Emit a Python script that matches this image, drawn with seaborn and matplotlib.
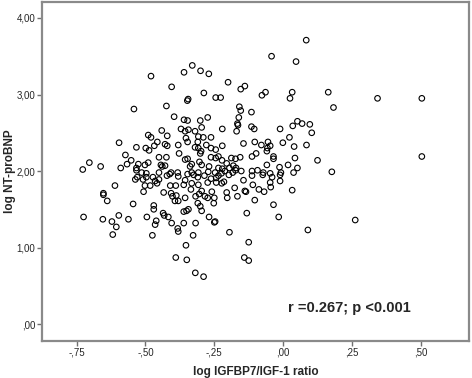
import numpy as np
import pandas as pd
import matplotlib
matplotlib.use("Agg")
import matplotlib.pyplot as plt
import seaborn as sns

# log IGFBP7/IGF-1 ratio (x) and log NT-proBNP (y)
ratio = [
    -0.48, -0.36, -0.33, -0.30, -0.27, -0.405, -0.20, -0.154, -0.139, -0.288, -0.345, -0.245, -0.227,
    0.084, -0.042, 0.047, -0.064, -0.077, 0.033, 0.025, 0.164, 0.343, 0.504,
    0.183, 0.097, 0.104, 0.085, 0.125, 0.177, 0.504, 0.262, 0.090,
    -0.141, -0.125, -0.390, -0.350, -0.319, -0.289, -0.353,
    -0.542, -0.596, -0.533, -0.573, -0.552, -0.567, -0.59, -0.533, -0.704, -0.728, -0.663,
    -0.537, -0.530, -0.611, -0.653, -0.653, -0.639, -0.545, -0.725, -0.655, -0.597, -0.622, -0.606, -0.562, -0.619,
    -0.348, -0.424, -0.396, -0.36, -0.347, -0.301, -0.274, -0.296, -0.221, -0.441, -0.371, -0.356, -0.344, -0.32,
    -0.49, -0.48, -0.421, -0.353, -0.308, -0.290, -0.262, -0.457, -0.468, -0.429, -0.421, -0.499, -0.487, -0.381,
    -0.347, -0.310, -0.32, -0.308, -0.298, -0.301, -0.279, -0.262, -0.245, -0.221, -0.451, -0.424, -0.378, -0.356,
    -0.347, -0.262, -0.245, -0.235, -0.526, -0.502, -0.490, -0.444, -0.439, -0.429, -0.332, -0.338, -0.304, -0.296,
    -0.269, -0.235, -0.221, -0.514, -0.497, -0.451, -0.407, -0.383, -0.332, -0.308, -0.272, -0.247, -0.533,
    -0.509, -0.497, -0.473, -0.451, -0.465, -0.458, -0.502, -0.483, -0.507, -0.422, -0.412, -0.381, -0.356, -0.347,
    -0.325, -0.310, -0.332, -0.308, -0.410, -0.390, -0.361, -0.434, -0.407, -0.402, -0.388, -0.381, -0.393, -0.356,
    -0.335, -0.318, -0.305, -0.296, -0.284, -0.274, -0.259, -0.250, -0.252, -0.310, -0.301, -0.286, -0.274, -0.262,
    -0.243, -0.223, -0.243, -0.235, -0.470, -0.470, -0.436, -0.432, -0.417, -0.361, -0.351, -0.344, -0.296, -0.495,
    -0.461, -0.465, -0.405, -0.383, -0.381, -0.361, -0.318, -0.269, -0.247, -0.25, -0.475, -0.327,
    -0.159, -0.154, -0.115, -0.161, -0.166, -0.164, -0.169, -0.115, -0.105, -0.011, 0.035, 0.052, 0.069, 0.023,
    -0.144, -0.103, -0.079, -0.055, -0.047, -0.057, -0.059, -0.035, -0.035, -0.001, 0.040, -0.098, -0.113, 0.043,
    -0.059, -0.013, 0.018, 0.052, -0.222, -0.205, -0.188, -0.173, -0.156, -0.181, -0.195, -0.171, -0.152, -0.113,
    -0.093, -0.072, -0.047, -0.008, 0.038,
    -0.224, -0.212, -0.197, -0.183, -0.173, -0.215, -0.144, -0.113, -0.074, -0.040, -0.047, -0.045, -0.011, -0.011,
    -0.110, -0.088, -0.069, -0.139, -0.135, -0.176, -0.205, -0.203, -0.166, -0.103, 0.033, -0.035, -0.132, -0.016,
    -0.195, -0.125,
]
ntprobnp = [
    3.24, 3.29, 3.38, 3.31, 3.27, 3.10, 3.16, 3.07, 3.11, 3.02, 2.94, 2.96, 2.96,
    3.71, 3.50, 3.43, 3.03, 2.99, 3.03, 2.95, 3.03, 2.95, 2.95,
    2.83, 2.61, 2.50, 2.34, 2.14, 1.99, 2.19, 1.36, 1.23,
    0.87, 0.83, 0.87, 0.84, 0.67, 0.62, 1.03,
    2.81, 2.37, 2.31, 2.21, 2.14, 2.09, 2.04, 2.04, 2.11, 2.02, 2.06,
    1.89, 1.92, 1.81, 1.71, 1.69, 1.61, 1.57, 1.40, 1.37, 1.42, 1.34, 1.27, 1.37, 1.17,
    2.92, 2.85, 2.71, 2.67, 2.66, 2.66, 2.70, 2.57, 2.55, 2.53, 2.55, 2.52, 2.54, 2.52,
    2.47, 2.44, 2.46, 2.43, 2.45, 2.44, 2.44, 2.38, 2.33, 2.35, 2.33, 2.30, 2.27, 2.34,
    2.38, 2.38, 2.31, 2.30, 2.26, 2.23, 2.34, 2.30, 2.28, 2.33, 2.18, 2.18, 2.23, 2.15,
    2.16, 2.18, 2.17, 2.19, 2.09, 2.08, 2.11, 2.08, 2.06, 2.07, 2.09, 2.06, 2.12, 2.08,
    2.06, 2.04, 2.03, 1.98, 1.97, 1.98, 1.98, 1.98, 1.98, 1.98, 1.99, 1.98, 2.01,
    1.89, 1.92, 1.92, 1.89, 1.87, 1.84, 1.81, 1.81, 1.73, 1.94, 1.96, 1.93, 1.88, 1.96,
    1.95, 1.92, 1.84, 1.82, 1.81, 1.81, 1.82, 1.72, 1.71, 1.67, 1.68, 1.61, 1.61, 1.65,
    1.76, 1.67, 1.70, 1.74, 1.67, 1.65, 1.73, 1.65, 1.58, 1.58, 1.54, 1.94, 1.85, 1.90,
    1.85, 1.84, 1.91, 1.94, 1.55, 1.50, 1.45, 1.42, 1.40, 1.47, 1.48, 1.50, 1.48, 1.40,
    1.35, 1.30, 1.32, 1.25, 1.21, 1.32, 1.32, 1.40, 1.34, 1.33, 1.16, 1.16,
    2.84, 2.79, 2.77, 2.70, 2.62, 2.60, 2.52, 2.58, 2.55, 2.55, 2.59, 2.65, 2.62, 2.44,
    2.36, 2.38, 2.34, 2.38, 2.33, 2.30, 2.26, 2.19, 2.16, 2.37, 2.32, 2.23, 2.19, 2.17,
    2.08, 2.05, 2.08, 2.04, 2.14, 2.10, 2.17, 2.16, 2.18, 2.07, 2.04, 2.04, 2.00, 2.00,
    2.01, 1.98, 1.97, 1.98, 1.98,
    1.97, 2.00, 1.95, 1.98, 2.01, 1.86, 1.88, 1.94, 1.95, 1.92, 1.85, 1.79, 1.95, 1.87,
    1.82, 1.76, 1.73, 1.74, 1.73, 1.78, 1.72, 1.65, 1.67, 1.62, 1.75, 1.56, 1.45, 1.40,
    1.20, 1.07,
]

x_ticks = [-0.75, -0.50, -0.25, 0.00, 0.25, 0.50]
x_tick_labels = ["-,75", "-,50", "-,25", ",00", ",25", ",50"]
y_ticks = [0, 1, 2, 3, 4]
y_tick_labels = [",00", "1,00", "2,00", "3,00", "4,00"]

df = pd.DataFrame({"ratio": ratio, "ntprobnp": ntprobnp})

sns.set_style("white")
plt.rcParams["font.family"] = ["Liberation Sans", "DejaVu Sans"]

fig = plt.figure(figsize=(4.72, 3.78), dpi=100)
ax = fig.add_axes([0.089, 0.098, 0.905, 0.897])

sns.scatterplot(data=df, x="ratio", y="ntprobnp", ax=ax, s=16, marker="o",
                facecolor="none", edgecolor="black", linewidth=0.8)

ax.set_xlim(-0.876, 0.676)
ax.set_ylim(-0.22, 4.21)
ax.set_xticks(x_ticks)
ax.set_xticklabels(x_tick_labels)
ax.set_yticks(y_ticks)
ax.set_yticklabels(y_tick_labels)
ax.tick_params(axis="both", direction="out", length=3.5, width=1, color="#707070",
               labelsize=7, pad=1.5, bottom=True, left=True)

for sp in ax.spines.values():
    sp.set_color("#8a8a8a")
    sp.set_linewidth(1.6)

ax.set_xlabel("log IGFBP7/IGF-1 ratio", fontsize=8.5, fontweight="bold", labelpad=6)
ax.set_ylabel("log NT-proBNP", fontsize=8.5, fontweight="bold")
ax.yaxis.set_label_coords(-0.062, 0.5)

ax.text(0.24, 0.21, "r =0.267; p <0.001", fontsize=10.5, fontweight="bold",
        ha="center", va="center")

fig.savefig("out.png", dpi=100)
